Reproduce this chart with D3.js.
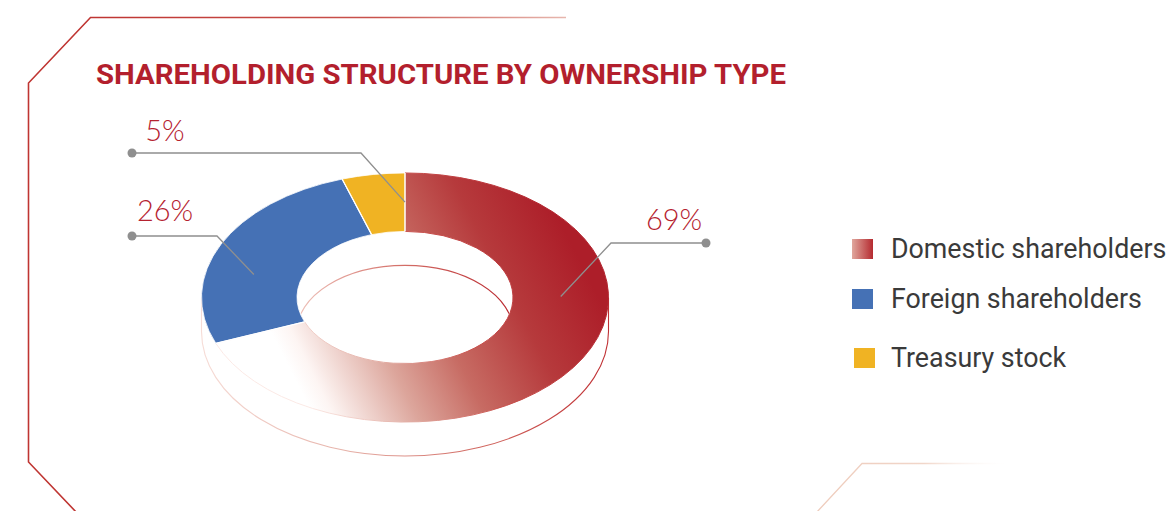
<!DOCTYPE html>
<html>
<head>
<meta charset="utf-8">
<script src="https://cdn.jsdelivr.net/npm/d3@7"></script>
<style>
  html, body { margin: 0; padding: 0; background: #ffffff; }
  svg { display: block; }
</style>
</head>
<body>
<svg id="chart" width="1171" height="511"></svg>
<script>
// Shareholding structure by ownership type (percent of shares)
const categories = ["Domestic shareholders", "Foreign shareholders", "Treasury stock"];
const shareValues = [69, 26, 5];
const valueLabels = ["69%", "26%", "5%"];
const chartTitle = "SHAREHOLDING STRUCTURE BY OWNERSHIP TYPE";

const W = 1171, H = 511;
const svg = d3.select("#chart");
const defs = svg.append("defs");

// ---- geometry of the tilted ring ----
const cx = 405, cy = 297.5;
const outerR = 203.5, innerR = 108;
const tilt = 0.612;          // vertical squash of the ring's top face
const depth = 34;            // thickness of the ring

const colors = ["url(#domFill)", "#4571b5", "#f0b323"];

// gradient of the domestic slice, in the ring's local (unsquashed) space
function localY(Y) { return (Y - cy) / tilt; }
const dom = defs.append("linearGradient")
  .attr("id", "domFill").attr("gradientUnits", "userSpaceOnUse")
  .attr("x1", 285 - cx).attr("y1", localY(360))
  .attr("x2", 600 - cx).attr("y2", localY(300));
[[0, "#ffffff"], [0.06, "#fdf5f3"], [0.3, "#dca59b"], [0.5, "#c76b63"],
 [0.75, "#b63a3c"], [1, "#ad1e29"]].forEach(([o, c]) =>
  dom.append("stop").attr("offset", o).attr("stop-color", c));

const domEdge = defs.append("linearGradient")
  .attr("id", "domEdge").attr("gradientUnits", "userSpaceOnUse")
  .attr("x1", 285 - cx).attr("y1", localY(360))
  .attr("x2", 600 - cx).attr("y2", localY(300));
[[0, "#fbe9e5"], [0.3, "#e0a69c"], [0.55, "#c9534e"], [1, "#b32630"]].forEach(([o, c]) =>
  domEdge.append("stop").attr("offset", o).attr("stop-color", c));

// side wall outline: faint on the left, dark red on the right
const wall = defs.append("linearGradient")
  .attr("id", "wallStroke").attr("gradientUnits", "userSpaceOnUse")
  .attr("x1", cx - outerR).attr("y1", 0).attr("x2", cx + outerR).attr("y2", 0);
[[0, "#f6dcd6"], [0.35, "#e6b2a9"], [0.7, "#d0645d"], [1, "#bf2f33"]].forEach(([o, c]) =>
  wall.append("stop").attr("offset", o).attr("stop-color", c));

const hole = defs.append("linearGradient")
  .attr("id", "holeStroke").attr("gradientUnits", "userSpaceOnUse")
  .attr("x1", cx - innerR).attr("y1", 0).attr("x2", cx + innerR).attr("y2", 0);
[[0, "#eec3bb"], [0.5, "#d36d66"], [1, "#b9282f"]].forEach(([o, c]) =>
  hole.append("stop").attr("offset", o).attr("stop-color", c));

// legend swatch for the domestic series
const domSwatch = defs.append("linearGradient").attr("id", "domSwatch")
  .attr("x1", 0).attr("y1", 0).attr("x2", 1).attr("y2", 0);
[[0, "#e0a79d"], [1, "#b52a30"]].forEach(([o, c]) =>
  domSwatch.append("stop").attr("offset", o).attr("stop-color", c));

// frame decoration gradients
const frameTop = defs.append("linearGradient").attr("id", "frameTop")
  .attr("gradientUnits", "userSpaceOnUse")
  .attr("x1", 90).attr("y1", 0).attr("x2", 566).attr("y2", 0);
[[0, "#bf3532"], [0.6, "#c9524c"], [1, "#e7b7ae"]].forEach(([o, c]) =>
  frameTop.append("stop").attr("offset", o).attr("stop-color", c));
const frameBR = defs.append("linearGradient").attr("id", "frameBR")
  .attr("gradientUnits", "userSpaceOnUse")
  .attr("x1", 816).attr("y1", 0).attr("x2", 1012).attr("y2", 0);
[[0, "#eecbbb", 1], [0.55, "#f1d6c9", 1], [1, "#ffffff", 0]].forEach(([o, c, a]) =>
  frameBR.append("stop").attr("offset", o).attr("stop-color", c).attr("stop-opacity", a));

// ---- frame ----
svg.append("path")
  .attr("d", `M566,17.5 L90.5,17.5 L28.5,83 L28.5,462 L77,513`)
  .attr("fill", "none").attr("stroke", "url(#frameTop)").attr("stroke-width", 1.6);
svg.append("path")
  .attr("d", `M1012,463.5 L862,463.5 L816,513`)
  .attr("fill", "none").attr("stroke", "url(#frameBR)").attr("stroke-width", 1.3);

// ---- title ----
svg.append("text")
  .attr("x", 96).attr("y", 84)
  .attr("font-family", "Roboto, 'Noto Sans', sans-serif")
  .attr("font-weight", 700).attr("font-size", 28)
  .attr("fill", "#b31f2d")
  .attr("textLength", 690).attr("lengthAdjust", "spacingAndGlyphs")
  .text(chartTitle);

// ---- ring ----
const pie = d3.pie().sort(null).startAngle(0).endAngle(2 * Math.PI);
const arcs = pie(shareValues);
const arc = d3.arc().innerRadius(innerR).outerRadius(outerR);

// side wall (front half of the outer rim) and its outline
const ry = outerR * tilt;
const wallG = svg.append("g");
wallG.append("path")
  .attr("d", `M${cx - outerR},${cy} A${outerR},${ry} 0 0 0 ${cx + outerR},${cy}
              L${cx + outerR},${cy + depth} A${outerR},${ry} 0 0 1 ${cx - outerR},${cy + depth} Z`)
  .attr("fill", "#ffffff").attr("stroke", "none");
wallG.append("path")
  .attr("d", `M${cx - outerR},${cy} L${cx - outerR},${cy + depth}
              A${outerR},${ry} 0 0 0 ${cx + outerR},${cy + depth} L${cx + outerR},${cy}`)
  .attr("fill", "none").attr("stroke", "url(#wallStroke)").attr("stroke-width", 1.1);

// top face
const ring = svg.append("g").attr("transform", `translate(${cx},${cy}) scale(1,${tilt})`);
ring.selectAll("path.slice")
  .data(arcs)
  .join("path")
  .attr("class", "slice")
  .attr("d", arc)
  .attr("fill", (d, i) => colors[i])
  .attr("stroke", (d, i) => i === 0 ? "url(#domEdge)" : "#ffffff")
  .attr("stroke-width", (d, i) => i === 0 ? 1 : 0.8)
  .attr("vector-effect", "non-scaling-stroke");
// white separators between slices
ring.selectAll("line.sep")
  .data(arcs)
  .join("line")
  .attr("class", "sep")
  .attr("x1", d => innerR * Math.sin(d.startAngle))
  .attr("y1", d => -innerR * Math.cos(d.startAngle))
  .attr("x2", d => outerR * Math.sin(d.startAngle))
  .attr("y2", d => -outerR * Math.cos(d.startAngle))
  .attr("stroke", "#ffffff").attr("stroke-width", 1.2)
  .attr("vector-effect", "non-scaling-stroke");

// inner wall seen through the hole
const iry = innerR * tilt;
defs.append("clipPath").attr("id", "holeClip")
  .append("ellipse").attr("cx", cx).attr("cy", cy).attr("rx", innerR - 0.8).attr("ry", iry - 0.8);
svg.append("ellipse")
  .attr("cx", cx).attr("cy", cy + depth).attr("rx", innerR).attr("ry", iry)
  .attr("fill", "none").attr("stroke", "url(#holeStroke)").attr("stroke-width", 1.1)
  .attr("clip-path", "url(#holeClip)");

// ---- value labels with leader lines ----
// label layout: where the dot sits, where the leader bends, and how far
// along the slice (fraction of its sweep, ring mid-radius) the leader ends
const labelLayout = [
  { dotX: 706, dotY: 243, elbowX: 611, along: 0.36, textX: 674, textY: 230 },
  { dotX: 132, dotY: 236, elbowX: 217, along: 0.38, textX: 165, textY: 221 },
  { dotX: 132, dotY: 153, elbowX: 361, along: 1.0,  textX: 165, textY: 141 }
];
const midR = (innerR + outerR) / 2;
arcs.forEach((d, i) => {
  const L = labelLayout[i];
  const a = d.startAngle + (d.endAngle - d.startAngle) * L.along;
  const tipX = cx + midR * Math.sin(a);
  const tipY = cy - midR * Math.cos(a) * tilt;
  svg.append("polyline")
    .attr("points", `${L.dotX},${L.dotY} ${L.elbowX},${L.dotY} ${tipX},${tipY}`)
    .attr("fill", "none").attr("stroke", "#8f8f8f").attr("stroke-width", 1.3);
  svg.append("circle").attr("cx", L.dotX).attr("cy", L.dotY).attr("r", 4.5).attr("fill", "#8f8f8f");
  svg.append("text")
    .attr("x", L.textX).attr("y", L.textY)
    .attr("text-anchor", "middle")
    .attr("font-family", "Lato, 'Noto Sans', sans-serif")
    .attr("font-weight", 300).attr("font-size", 29)
    .attr("fill", "#b5222f")
    .text(valueLabels[i]);
});

// ---- legend ----
const legendRows = [
  { y: 239, x: 852 },
  { y: 289, x: 852 },
  { y: 348, x: 854 }
];
const legend = svg.append("g");
categories.forEach((name, i) => {
  const r = legendRows[i];
  legend.append("rect")
    .attr("x", r.x).attr("y", r.y).attr("width", 21).attr("height", 20)
    .attr("fill", i === 0 ? "url(#domSwatch)" : colors[i]);
  legend.append("text")
    .attr("x", 891).attr("y", r.y + 19)
    .attr("font-family", "Roboto, 'Noto Sans', sans-serif")
    .attr("font-size", 26.8)
    .attr("fill", "#3a3a3a")
    .text(name);
});
</script>
</body>
</html>
